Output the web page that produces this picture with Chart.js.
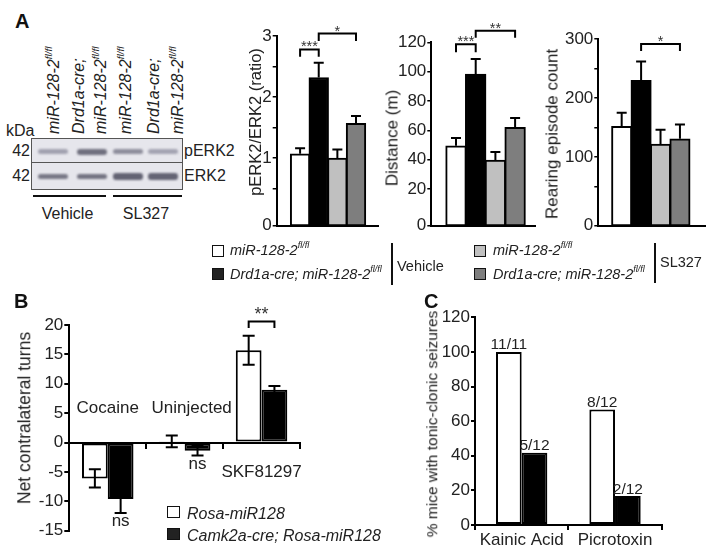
<!DOCTYPE html>
<html>
<head>
<meta charset="utf-8">
<script src="https://cdn.jsdelivr.net/npm/chart.js@4.4.1/dist/chart.umd.min.js"></script>
<style>
html,body{margin:0;padding:0;background:#fff;}
body{width:714px;height:554px;position:relative;overflow:hidden;font-family:"Liberation Sans",Arial,Helvetica,sans-serif;color:#222;}
canvas{position:absolute;}
.t{position:absolute;white-space:nowrap;line-height:17px;font-size:14.5px;}
.it{font-style:italic;}
sup{font-size:62%;position:relative;top:-0.75em;vertical-align:baseline;line-height:0;}
.rot{position:absolute;white-space:nowrap;line-height:17px;transform:rotate(-90deg);transform-origin:0 0;font-size:16px;font-style:italic;}
.rc{position:absolute;white-space:nowrap;line-height:1;transform:translate(-50%,-50%) rotate(-90deg);font-size:17px;}
.panel{position:absolute;font-weight:bold;font-size:20px;line-height:20px;color:#111;}
.box{position:absolute;width:10px;height:9.5px;border:1.5px solid #111;}
.vline{position:absolute;width:2px;background:#111;}
.hline{position:absolute;height:2px;background:#111;}
.band{position:absolute;border-radius:3px;filter:blur(0.9px);}
</style>
</head>
<body>
<canvas id="cA1" width="135" height="237" style="left:250px;top:0px"></canvas>
<canvas id="cA2" width="162" height="237" style="left:383px;top:0px"></canvas>
<canvas id="cA3" width="171" height="237" style="left:543px;top:0px"></canvas>
<canvas id="cB" width="300" height="254" style="left:15px;top:300px"></canvas>
<canvas id="cC" width="292" height="254" style="left:422px;top:300px"></canvas>

<!-- panel letters -->
<div class="panel" style="left:15px;top:10.5px">A</div>
<div class="panel" style="left:14px;top:290.5px">B</div>
<div class="panel" style="left:424px;top:290.5px">C</div>

<!-- western blot (image, not chart data) -->
<div class="rot" style="left:44.5px;top:134px">miR-128-2<sup>fl/fl</sup></div>
<div class="rot" style="left:69.5px;top:134px">Drd1a-cre;</div>
<div class="rot" style="left:91.5px;top:134px">miR-128-2<sup>fl/fl</sup></div>
<div class="rot" style="left:116.5px;top:134px">miR-128-2<sup>fl/fl</sup></div>
<div class="rot" style="left:144.5px;top:134px">Drd1a-cre;</div>
<div class="rot" style="left:168.5px;top:134px">miR-128-2<sup>fl/fl</sup></div>
<div class="t" style="left:6px;top:121.5px;font-size:16px">kDa</div>
<div class="t" style="left:4px;top:141.5px;font-size:16px;width:26px;text-align:right">42</div>
<div class="t" style="left:4px;top:167px;font-size:16px;width:26px;text-align:right">42</div>
<div style="position:absolute;left:31px;top:138px;width:150px;height:50px;border:1.5px solid #555;background:#e6e6ec;overflow:hidden">
  <div style="position:absolute;left:0;top:22.5px;width:150px;height:1.5px;background:#555"></div>
  <div class="band" style="left:6px;top:10px;width:30px;height:5px;background:#a2a2b0"></div>
  <div class="band" style="left:45px;top:9.5px;width:30px;height:6px;background:#70707f"></div>
  <div class="band" style="left:81px;top:9.5px;width:30px;height:5.5px;background:#8e8e9c"></div>
  <div class="band" style="left:116px;top:9.5px;width:30px;height:5px;background:#a4a4b2"></div>
  <div class="band" style="left:6px;top:34.5px;width:30px;height:5.5px;background:#787886"></div>
  <div class="band" style="left:45px;top:34.5px;width:30px;height:5.5px;background:#747482"></div>
  <div class="band" style="left:81px;top:34px;width:30px;height:6.5px;background:#636373"></div>
  <div class="band" style="left:116px;top:34px;width:30px;height:6.5px;background:#646474"></div>
</div>
<div class="t" style="left:184px;top:141.5px;font-size:16px">pERK2</div>
<div class="t" style="left:184px;top:167px;font-size:16px">ERK2</div>
<div class="hline" style="left:33px;top:195px;width:73px"></div>
<div class="hline" style="left:113px;top:195px;width:69px"></div>
<div class="t" style="left:27.5px;top:204.5px;width:80px;text-align:center;font-size:16px">Vehicle</div>
<div class="t" style="left:106px;top:204.5px;width:80px;text-align:center;font-size:16px">SL327</div>

<!-- axis titles -->
<div class="rc" style="left:255px;top:121.7px;font-size:16.5px">pERK2/ERK2 (ratio)</div>
<div class="rc" style="left:392px;top:138px">Distance (m)</div>
<div class="rc" style="left:552px;top:133.5px">Rearing episode count</div>
<div class="rc" style="left:25px;top:418px;font-size:17.5px">Net contralateral turns</div>
<div class="rc" style="left:432px;top:423.5px;font-size:15.5px">% mice with tonic-clonic seizures</div>

<!-- legend A -->
<div class="box" style="left:212px;top:245px;background:#fff"></div>
<div class="t it" style="left:230px;top:242px">miR-128-2<sup>fl/fl</sup></div>
<div class="box" style="left:212px;top:268px;background:#222"></div>
<div class="t it" style="left:230px;top:265.5px">Drd1a-cre; miR-128-2<sup>fl/fl</sup></div>
<div class="vline" style="left:390.5px;top:243px;height:42px"></div>
<div class="t" style="left:397px;top:257.5px">Vehicle</div>
<div class="box" style="left:474px;top:245px;background:#c0c0c0"></div>
<div class="t it" style="left:493px;top:242px">miR-128-2<sup>fl/fl</sup></div>
<div class="box" style="left:474px;top:268px;background:#7e7e7e"></div>
<div class="t it" style="left:493px;top:265.5px">Drd1a-cre; miR-128-2<sup>fl/fl</sup></div>
<div class="vline" style="left:654px;top:243px;height:40px"></div>
<div class="t" style="left:660px;top:254px">SL327</div>

<!-- legend B -->
<div class="box" style="left:167px;top:506px;background:#fff;width:11px;height:10px"></div>
<div class="t it" style="left:187px;top:504.5px;font-size:16px">Rosa-miR128</div>
<div class="box" style="left:167px;top:528px;background:#222;width:11px;height:10px"></div>
<div class="t it" style="left:187px;top:526.5px;font-size:16px">Camk2a-cre; Rosa-miR128</div>

<script>
// ---------------- DATA ----------------
const groupLabelsA = ['miR-128-2 fl/fl (Vehicle)', 'Drd1a-cre; miR-128-2 fl/fl (Vehicle)', 'miR-128-2 fl/fl (SL327)', 'Drd1a-cre; miR-128-2 fl/fl (SL327)'];
const groupColorsA = ['#ffffff', '#000000', '#c0c0c0', '#7e7e7e'];

const perkRatio = [1.07, 2.32, 1.00, 1.57];
const perkSem = [0.09, 0.24, 0.14, 0.12];
const perkTicks = [0.5, 1, 1.5, 2, 2.5, 3];

const distanceM = [49.5, 98.4, 39.8, 62.0];
const distanceSem = [5.3, 10.2, 5.4, 6.4];
const distanceTicks = [20, 40, 60, 80, 100, 120];

const rearingCount = [151.7, 230.0, 121.6, 130.7];
const rearingSem = [23.3, 32.0, 24.4, 24.4];
const rearingTicks = [50, 100, 150, 200, 250, 300];

const turnCategories = ['Cocaine', 'Uninjected', 'SKF81297'];
const seriesNames = ['Rosa-miR128', 'Camk2a-cre; Rosa-miR128'];
const rosaTurns = [-6.1, 0.2, 15.7];
const rosaTurnsSem = [1.55, 1.0, 2.45];
const camkTurns = [-9.6, -1.4, 9.0];
const camkTurnsSem = [2.4, 0.8, 0.6];
const turnTicks = [-15, -10, -5, 0, 5, 10, 15, 20];

const seizureCategories = ['Kainic Acid', 'Picrotoxin'];
const rosaSeizurePct = [100, 66.7];
const camkSeizurePct = [41.7, 16.7];
const rosaSeizureN = ['11/11', '8/12'];
const camkSeizureN = ['5/12', '2/12'];
const seizureTicks = [0, 20, 40, 60, 80, 100, 120];

// ---------------- SETUP ----------------
const FONT = "'Liberation Sans', Arial, Helvetica, sans-serif";
Chart.defaults.font.family = FONT;
Chart.defaults.color = '#222';
Chart.defaults.animation = false;
Chart.defaults.events = [];
Chart.defaults.plugins.legend.display = false;
Chart.defaults.plugins.tooltip.enabled = false;

function errorBars(sets, cap) {
  return {
    id: 'errorBars',
    afterDatasetsDraw(chart) {
      const ctx = chart.ctx, ys = chart.scales.y;
      ctx.save();
      ctx.strokeStyle = '#000';
      ctx.lineWidth = 2;
      sets.forEach(s => {
        const meta = chart.getDatasetMeta(s.ds);
        s.values.forEach((v, i) => {
          const x = meta.data[i].x, e = s.errs[i];
          const yHi = ys.getPixelForValue(v + e);
          const yLo = ys.getPixelForValue(s.both ? v - e : v);
          ctx.beginPath();
          ctx.moveTo(x, yLo); ctx.lineTo(x, yHi);
          ctx.moveTo(x - cap / 2, yHi); ctx.lineTo(x + cap / 2, yHi);
          if (s.both) { ctx.moveTo(x - cap / 2, yLo); ctx.lineTo(x + cap / 2, yLo); }
          ctx.stroke();
        });
      });
      ctx.restore();
    }
  };
}

function brackets(list, size, dy) {
  return {
    id: 'brackets',
    afterDraw(chart) {
      const ctx = chart.ctx, ys = chart.scales.y;
      ctx.save();
      ctx.strokeStyle = '#000'; ctx.lineWidth = 2; ctx.fillStyle = '#333';
      ctx.font = size + 'px ' + FONT; ctx.textAlign = 'center'; ctx.textBaseline = 'alphabetic';
      list.forEach(b => {
        const x1 = chart.getDatasetMeta(b.a[0]).data[b.a[1]].x;
        const x2 = chart.getDatasetMeta(b.b[0]).data[b.b[1]].x;
        const yt = ys.getPixelForValue(b.top), yl = ys.getPixelForValue(b.leg);
        ctx.beginPath();
        ctx.moveTo(x1, yl); ctx.lineTo(x1, yt); ctx.lineTo(x2, yt); ctx.lineTo(x2, yl);
        ctx.stroke();
        ctx.fillText(b.text, (x1 + x2) / 2, yt + dy);
      });
      ctx.restore();
    }
  };
}

function barTexts(sets, size) {
  return {
    id: 'barTexts',
    afterDatasetsDraw(chart) {
      const ctx = chart.ctx;
      ctx.save();
      ctx.fillStyle = '#222'; ctx.font = size + 'px ' + FONT;
      ctx.textAlign = 'center'; ctx.textBaseline = 'alphabetic';
      sets.forEach(s => {
        const meta = chart.getDatasetMeta(s.ds);
        s.texts.forEach((t, i) => { const el = meta.data[i]; ctx.fillText(t, el.x, el.y - 2.5); });
      });
      ctx.restore();
    }
  };
}

function notes(list, size) {
  return {
    id: 'notes',
    afterDraw(chart) {
      const ctx = chart.ctx, ys = chart.scales.y, xs = chart.scales.x;
      ctx.save();
      ctx.fillStyle = '#222'; ctx.font = size + 'px ' + FONT;
      ctx.textAlign = 'center'; ctx.textBaseline = 'middle';
      list.forEach(n => {
        const x = (n.ds !== undefined) ? chart.getDatasetMeta(n.ds).data[n.cat].x : xs.getPixelForValue(n.cat) + (n.dx || 0);
        ctx.fillText(n.text, x, ys.getPixelForValue(n.y));
      });
      ctx.restore();
    }
  };
}

function makeA(id, c) {
  return new Chart(document.getElementById(id), {
    type: 'bar',
    data: {
      labels: groupLabelsA,
      datasets: [{
        data: c.values.map((v, i) => ({ x: i + 1, y: [c.yMin, v] })),
        backgroundColor: groupColorsA, borderColor: '#000', borderWidth: 2,
        borderSkipped: false, barThickness: c.barW
      }]
    },
    options: {
      responsive: false, maintainAspectRatio: false,
      layout: { padding: c.pad },
      scales: {
        x: {
          type: 'linear', min: c.xMin, max: c.xMax, offset: false,
          grid: { display: false }, ticks: { display: false },
          border: { display: true, color: '#000', width: 2 },
          afterFit: s => { s.height = 0; }
        },
        y: {
          type: 'linear', min: c.yMin, max: c.yMax,
          afterBuildTicks: s => { s.ticks = [{ value: c.yMin }].concat(c.ticks.map(v => ({ value: v }))); },
          ticks: {
            autoSkip: false, padding: 1, color: '#222', font: { size: 17 },
            callback: (v, i) => i === 0 ? '0' : (c.showLabel(v) ? String(v) : '')
          },
          grid: { drawOnChartArea: false, tickLength: 4, color: '#000', lineWidth: 1.5 },
          border: { color: '#000', width: 2 },
          afterFit: s => { s.width = c.yW; }
        }
      }
    },
    plugins: [errorBars([{ ds: 0, values: c.values, errs: c.sem, both: false }], 10), brackets(c.marks, 14.5, 2)]
  });
}

makeA('cA1', {
  values: perkRatio, sem: perkSem, ticks: perkTicks, showLabel: v => Number.isInteger(v),
  yMin: -0.11, yMax: 3, xMin: -0.255, xMax: 5.18, barW: 19.7, yW: 26.7,
  pad: { top: 36, right: 7, bottom: 11, left: 0 },
  marks: [{ a: [0, 0], b: [0, 1], top: 2.78, leg: 2.66, text: '***' },
          { a: [0, 1], b: [0, 3], top: 3.04, leg: 2.92, text: '*' }]
});
makeA('cA2', {
  values: distanceM, sem: distanceSem, ticks: distanceTicks, showLabel: v => true,
  yMin: -5, yMax: 120, xMin: -0.254, xMax: 5.01, barW: 20.7, yW: 48.3,
  pad: { top: 42.3, right: 10, bottom: 11, left: 0 },
  marks: [{ a: [0, 0], b: [0, 1], top: 118.6, leg: 113.2, text: '***' },
          { a: [0, 1], b: [0, 3], top: 127.9, leg: 123.1, text: '**' }]
});
makeA('cA3', {
  values: rearingCount, sem: rearingSem, ticks: rearingTicks, showLabel: v => v % 100 === 0,
  yMin: -17, yMax: 300, xMin: -0.204, xMax: 5.29, barW: 20.4, yW: 55.3,
  pad: { top: 39, right: 9, bottom: 11, left: 0 },
  marks: [{ a: [0, 1], b: [0, 3], top: 291.5, leg: 279.5, text: '*' }]
});

// ---------------- PANEL B ----------------
new Chart(document.getElementById('cB'), {
  type: 'bar',
  data: {
    labels: turnCategories,
    datasets: [
      { label: seriesNames[0], data: rosaTurns, backgroundColor: '#ffffff', borderColor: '#000', borderWidth: 2, borderSkipped: false },
      { label: seriesNames[1], data: camkTurns, backgroundColor: '#000000', borderColor: '#000', borderWidth: 2, borderSkipped: false }
    ]
  },
  options: {
    responsive: false, maintainAspectRatio: false,
    layout: { padding: { top: 25, right: 15, bottom: 23.3, left: 0 } },
    datasets: { bar: { categoryPercentage: 0.67, barPercentage: 1 } },
    scales: {
      x: {
        position: { y: 0 }, offset: true,
        grid: { display: true, offset: true, drawOnChartArea: false, tickLength: 5, color: '#000', lineWidth: 2 },
        ticks: { display: false },
        border: { color: '#000', width: 2 }
      },
      y: {
        min: -15, max: 20,
        afterBuildTicks: s => { s.ticks = turnTicks.map(v => ({ value: v })); },
        ticks: { autoSkip: false, padding: 1, color: '#222', font: { size: 17 } },
        grid: { drawOnChartArea: false, tickLength: 5, color: '#000', lineWidth: 2 },
        border: { color: '#000', width: 2 },
        afterFit: s => { s.width = 54.3; }
      }
    }
  },
  plugins: [
    errorBars([{ ds: 0, values: rosaTurns, errs: rosaTurnsSem, both: true },
               { ds: 1, values: camkTurns, errs: camkTurnsSem, both: true }], 12),
    brackets([{ a: [0, 2], b: [1, 2], top: 20.6, leg: 19.5, text: '**' }], 18, -1),
    notes([
      { text: 'Cocaine', cat: 0, dx: 0, y: 5.8 },
      { text: 'Uninjected', cat: 1, dx: 7, y: 5.8 },
      { text: 'SKF81297', cat: 2, dx: 0, y: -5.1 },
      { text: 'ns', cat: 0, ds: 1, y: -13.4 },
      { text: 'ns', cat: 1, ds: 1, y: -3.7 }
    ], 17)
  ]
});

// ---------------- PANEL C ----------------
new Chart(document.getElementById('cC'), {
  type: 'bar',
  data: {
    labels: seizureCategories,
    datasets: [
      { label: seriesNames[0], data: rosaSeizurePct, backgroundColor: '#ffffff', borderColor: '#000', borderWidth: 2, borderSkipped: false },
      { label: seriesNames[1], data: camkSeizurePct, backgroundColor: '#000000', borderColor: '#000', borderWidth: 2, borderSkipped: false }
    ]
  },
  options: {
    responsive: false, maintainAspectRatio: false,
    layout: { padding: { top: 17.3, right: 52.3, bottom: 0, left: 0 } },
    datasets: { bar: { categoryPercentage: 0.55, barPercentage: 1 } },
    scales: {
      x: {
        offset: true,
        grid: { display: true, offset: true, drawOnChartArea: false, tickLength: 5, color: '#000', lineWidth: 2 },
        ticks: { padding: 0, color: '#222', font: { size: 17 }, maxRotation: 0, autoSkip: false },
        border: { color: '#000', width: 2 },
        afterFit: s => { s.height = 29; }
      },
      y: {
        min: 0, max: 120,
        afterBuildTicks: s => { s.ticks = seizureTicks.map(v => ({ value: v })); },
        ticks: { autoSkip: false, padding: 1, color: '#222', font: { size: 17 } },
        grid: { drawOnChartArea: false, tickLength: 4, color: '#000', lineWidth: 2 },
        border: { color: '#000', width: 2 },
        afterFit: s => { s.width = 53; }
      }
    }
  },
  plugins: [barTexts([{ ds: 0, texts: rosaSeizureN }, { ds: 1, texts: camkSeizureN }], 15.5)]
});
</script>
</body>
</html>
